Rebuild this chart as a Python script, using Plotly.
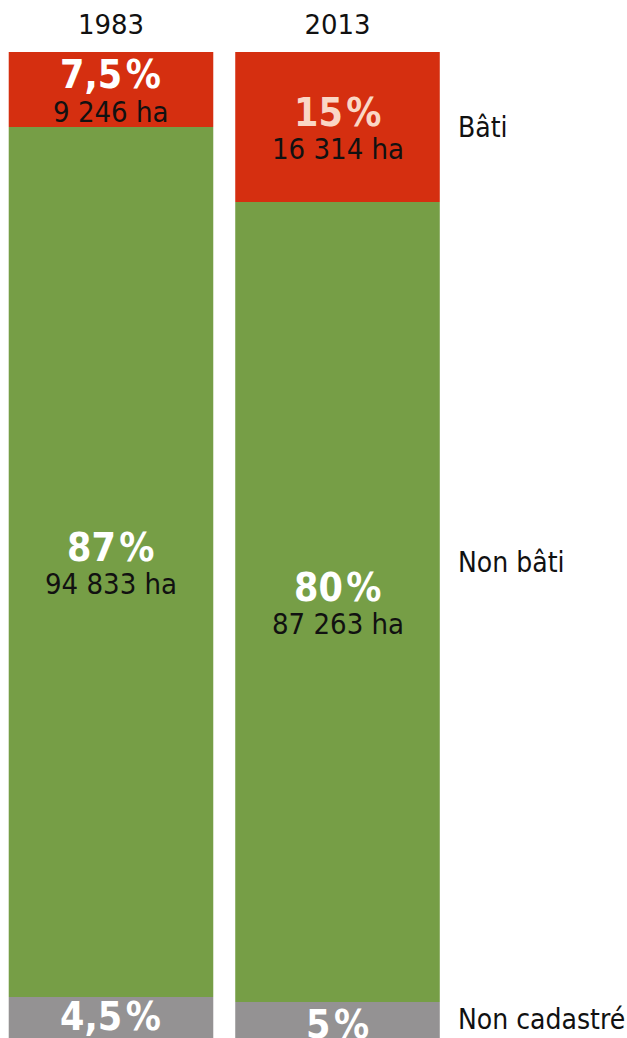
import plotly.graph_objects as go

years = ["1983", "2013"]
categories = ["Bâti", "Non bâti", "Non cadastré"]
pct_values = {
    "Bâti": [7.5, 15],
    "Non bâti": [87, 80],
    "Non cadastré": [4.5, 5],
}
pct_labels = {
    "Bâti": ["7,5\u200a%", "15\u200a%"],
    "Non bâti": ["87\u200a%", "80\u200a%"],
    "Non cadastré": ["4,5\u200a%", "5\u200a%"],
}
ha_labels = {
    "Bâti": ["9 246 ha", "16 314 ha"],
    "Non bâti": ["94 833 ha", "87 263 ha"],
    "Non cadastré": [None, None],
}

colors = {"Bâti": "#d52f10", "Non bâti": "#769e46", "Non cadastré": "#949293"}
pct_colors = {"Bâti": ["#ffffff", "#fad7c6"], "Non bâti": ["#ffffff", "#ffffff"],
              "Non cadastré": ["#ffffff", "#ffffff"]}
# which bar's segment midpoint the right-hand category label aligns with
side_label_ref = {"Bâti": 1, "Non bâti": 0, "Non cadastré": 0}

COND = "DejaVu Sans Condensed, DejaVu Sans, sans-serif"
x_pos = list(range(len(years)))

fig = go.Figure()
base = [0.0] * len(years)
annotations = []
for cat in categories:
    vals = pct_values[cat]
    fig.add_trace(go.Bar(
        x=x_pos, y=vals, base=base[:], width=0.903,
        marker=dict(color=colors[cat], line=dict(width=0)),
        name=cat, hoverinfo="skip", showlegend=False,
    ))
    mids = [b + v / 2 for b, v in zip(base, vals)]
    for i in range(len(years)):
        has_ha = ha_labels[cat][i] is not None
        annotations.append(dict(
            x=x_pos[i], y=mids[i], xref="x", yref="y",
            text="<b>" + pct_labels[cat][i] + "</b>",
            showarrow=False, yshift=15 if has_ha else 3,
            font=dict(family=COND, size=39, color=pct_colors[cat][i]),
        ))
        if has_ha:
            annotations.append(dict(
                x=x_pos[i], y=mids[i], xref="x", yref="y",
                text=ha_labels[cat][i], showarrow=False, yshift=-22,
                font=dict(family=COND, size=29, color="#111111"),
            ))
    annotations.append(dict(
        x=0.7305, xref="paper", y=mids[side_label_ref[cat]], yref="y",
        text=cat, showarrow=False, xanchor="left", xshift=-2,
        font=dict(family=COND, size=28, color="#111111"),
    ))
    base = [b + v for b, v in zip(base, vals)]

fig.update_layout(
    width=627, height=1038,
    margin=dict(l=0, r=0, t=52, b=0),
    paper_bgcolor="white", plot_bgcolor="white",
    barmode="overlay",
    annotations=annotations,
    xaxis=dict(range=[-0.49, 2.278], tickvals=x_pos, ticktext=years, side="top",
               showgrid=False, zeroline=False, showline=False, ticks="",
               tickfont=dict(family="DejaVu Sans", size=26, color="#111111"),
               ticklabelstandoff=12, fixedrange=True),
    yaxis=dict(range=[98.6, 0], visible=False, showgrid=False, zeroline=False,
               fixedrange=True),
)

fig.write_html("out.html", config={"displayModeBar": False},
               post_script="document.body.style.margin='0px';document.body.style.overflow='hidden';")
